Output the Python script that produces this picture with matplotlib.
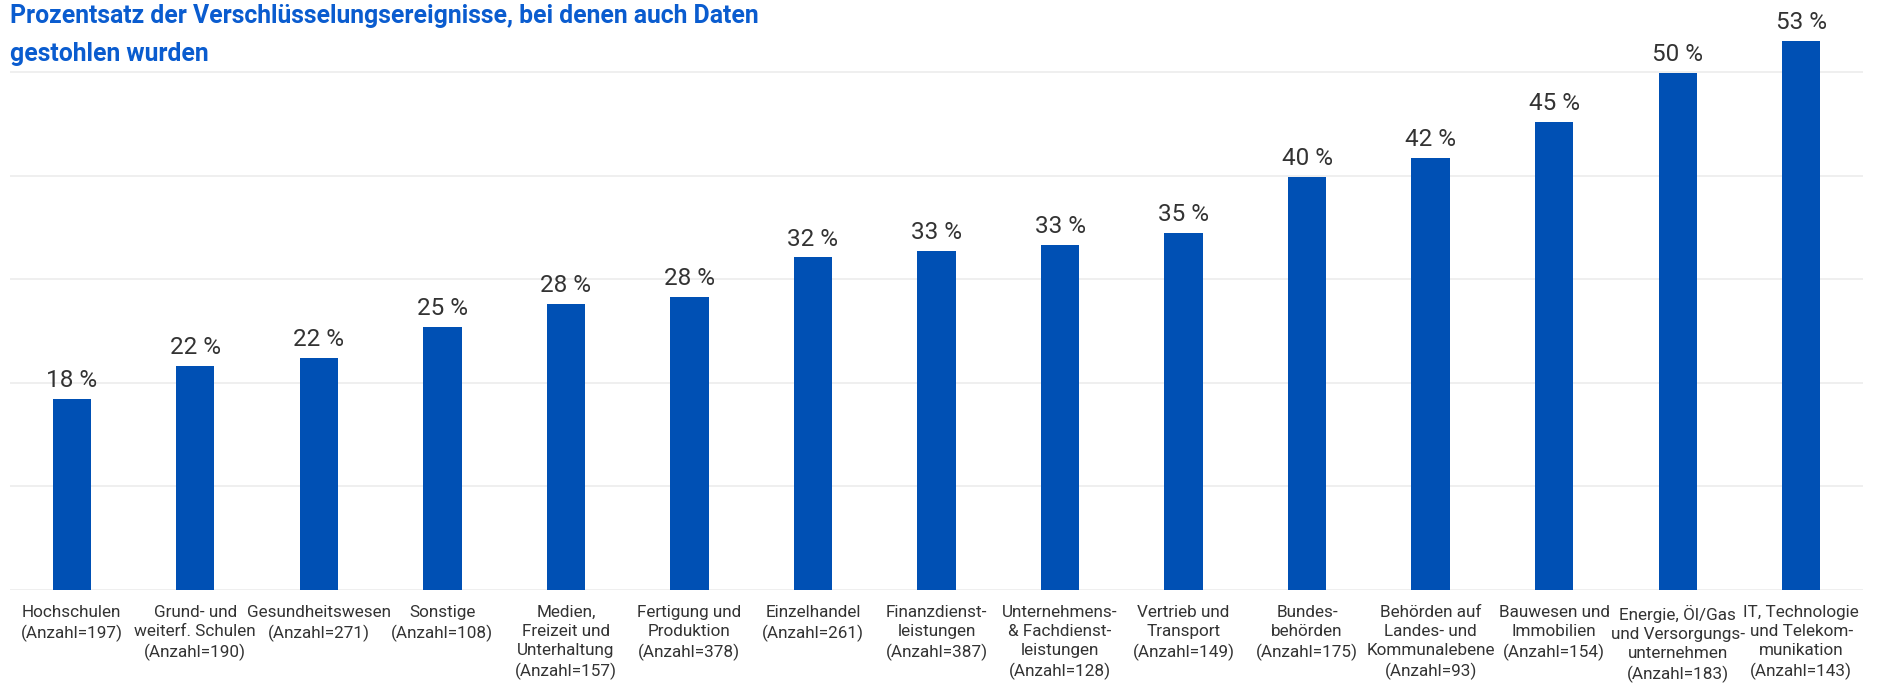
import matplotlib
matplotlib.use("Agg")
import matplotlib.pyplot as plt

plt.rcParams['font.family'] = ['Roboto', 'DejaVu Sans']

categories = [
    "Hochschulen\n(Anzahl=197)",
    "Grund- und\nweiterf. Schulen\n(Anzahl=190)",
    "Gesundheitswesen\n(Anzahl=271)",
    "Sonstige\n(Anzahl=108)",
    "Medien,\nFreizeit und\nUnterhaltung\n(Anzahl=157)",
    "Fertigung und\nProduktion\n(Anzahl=378)",
    "Einzelhandel\n(Anzahl=261)",
    "Finanzdienst-\nleistungen\n(Anzahl=387)",
    "Unternehmens-\n& Fachdienst-\nleistungen\n(Anzahl=128)",
    "Vertrieb und\nTransport\n(Anzahl=149)",
    "Bundes-\nbehörden\n(Anzahl=175)",
    "Behörden auf\nLandes- und\nKommunalebene\n(Anzahl=93)",
    "Bauwesen und\nImmobilien\n(Anzahl=154)",
    "Energie, Öl/Gas\nund Versorgungs-\nunternehmen\n(Anzahl=183)",
    "IT, Technologie\nund Telekom-\nmunikation\n(Anzahl=143)",
]
values = [18.4, 21.6, 22.4, 25.4, 27.6, 28.3, 32.1, 32.7, 33.3, 34.5, 39.9, 41.7, 45.2, 49.9, 53.0]
value_labels = ["18 %", "22 %", "22 %", "25 %", "28 %", "28 %", "32 %", "33 %", "33 %",
                "35 %", "40 %", "42 %", "45 %", "50 %", "53 %"]
title = "Prozentsatz der Verschlüsselungsereignisse, bei denen auch Daten\ngestohlen wurden"

W, H = 1883, 685
fig = plt.figure(figsize=(W / 100, H / 100), dpi=100)
ax = fig.add_axes([10 / W, 1 - 590 / H, 1853 / W, 590 / H])

x = list(range(len(values)))
ax.bar(x, values, width=0.31, color="#0050B4", zorder=3)
ax.set_xlim(-0.5, len(values) - 0.5)
ax.set_ylim(0, 56.95)

for v in [0, 10, 20, 30, 40, 50]:
    ax.axhline(v, color="#ececec", lw=1.2, zorder=1)

for xi, v, lab in zip(x, values, value_labels):
    ax.annotate(lab, (xi, v), xytext=(0, 5), textcoords="offset points",
                ha="center", va="bottom", fontsize=17.5, color="#333333")

ax.set_xticks(x)
ax.set_xticklabels(categories, fontsize=12.3, color="#333333", linespacing=1.32, va="top")
ax.tick_params(axis="x", length=0, pad=11)
ax.set_yticks([])
for s in ax.spines.values():
    s.set_visible(False)

fig.text(10 / W, 1 - 4 / H, title, ha="left", va="top", fontsize=17.8,
         fontweight="bold", color="#0A5CCF", linespacing=1.75)

fig.savefig("out.png", dpi=100)
